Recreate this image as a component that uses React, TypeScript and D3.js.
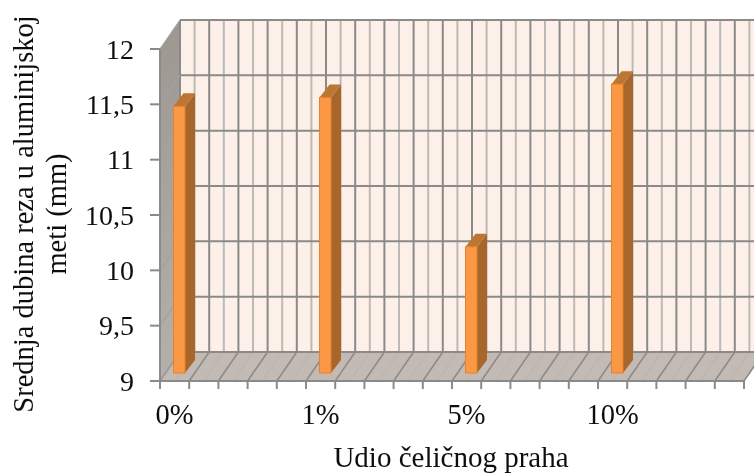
import React from "react";
import * as d3 from "d3";

const categories = ["0%", "", "", "", "", "1%", "", "", "", "", "5%", "", "", "", "", "10%", "", "", "", ""];
const seriesValues: (number | null)[] = [11.41, null, null, null, null, 11.49, null, null, null, null, 10.14, null, null, null, null, 11.61, null, null, null, null];
const yTicks = [9, 9.5, 10, 10.5, 11, 11.5, 12];
const yTitleLines = ["Srednja dubina reza u aluminijskoj", "meti (mm)"];
const xTitle = "Udio čeličnog praha";

const W = 754, H = 473;
const dx = 20, dy = -29;
const x0 = 160, x1 = 744;
const yBottom = 381, yTop = 49;
const font = "'Liberation Serif', 'Times New Roman', serif";

export default function App() {
  const keys = categories.map((_, i) => String(i));
  const x = d3.scaleBand<string>().domain(keys).range([x0, x1]);
  const y = d3.scaleLinear().domain([9, 12]).range([yBottom, yTop]);
  const bw = x.bandwidth();
  const fmt = (v: number) => String(v).replace(".", ",");
  const edges = d3.range(0, categories.length + 1).map((i) => x0 + i * bw);
  const mids = edges.slice(0, -1).map((e) => e + bw / 2);
  const poly = (p: [number, number][]) => "M" + p.map((q) => q.join(",")).join("L") + "Z";

  return (
    <svg width={W} height={H} viewBox={`0 0 ${W} ${H}`} style={{ position: "absolute", left: 0, top: 0, background: "#fff" }}>
      <defs>
        <filter id="soft" x="-5%" y="-5%" width="110%" height="110%">
          <feGaussianBlur stdDeviation="0.55" />
        </filter>
        <linearGradient id="sideWall" x1="0" y1="0" x2="0" y2="1">
          <stop offset="0" stopColor="#9d9792" />
          <stop offset="1" stopColor="#b5b0ab" />
        </linearGradient>
      </defs>
      <g filter="url(#soft)">
        <path d={poly([[x0 + dx, yTop + dy], [x1 + dx, yTop + dy], [x1 + dx, yBottom + dy], [x0 + dx, yBottom + dy]])} fill="#fdf0e8" />
        <path d={poly([[x0, yTop], [x0 + dx, yTop + dy], [x0 + dx, yBottom + dy], [x0, yBottom]])} fill="url(#sideWall)" />
        <path d={poly([[x0, yBottom], [x0 + dx, yBottom + dy], [x1 + dx, yBottom + dy], [x1, yBottom]])} fill="#c3bab4" />

        {mids.map((m, i) => (
          <g key={"m" + i} stroke="#bcb9b6" strokeWidth={2}>
            <line x1={m + dx} x2={m + dx} y1={yTop + dy} y2={yBottom + dy} />
            <line x1={m} x2={m + dx} y1={yBottom} y2={yBottom + dy} stroke="#bab2ac" strokeWidth={1} />
          </g>
        ))}
        {edges.map((e, i) => (
          <g key={"e" + i} stroke="#8a8a8a">
            <line x1={e + dx} x2={e + dx} y1={yTop + dy} y2={yBottom + dy} strokeWidth={2} />
            <line x1={e} x2={e + dx} y1={yBottom} y2={yBottom + dy} strokeWidth={1.5} />
            <line x1={e} x2={e} y1={yBottom} y2={yBottom + 8} strokeWidth={2} />
          </g>
        ))}
        {yTicks.map((t) => (
          <g key={t} stroke="#8a8a8a">
            <line x1={x0 + dx} x2={x1 + dx} y1={y(t) + dy} y2={y(t) + dy} strokeWidth={2} />
            <line x1={x0} x2={x0 + dx} y1={y(t)} y2={y(t) + dy} stroke="#a5a19d" strokeWidth={1.2} />
            <line x1={x0 - 10} x2={x0} y1={y(t)} y2={y(t)} strokeWidth={2} />
          </g>
        ))}
        <line x1={x0} x2={x0} y1={yTop} y2={yBottom} stroke="#8a8a8a" strokeWidth={2} />
        <line x1={x0} x2={x1} y1={yBottom} y2={yBottom} stroke="#8a8a8a" strokeWidth={2} />

        {seriesValues.map((v, i) => {
          if (v == null) return null;
          const bxL = (x(keys[i]) as number) + 13.5;
          const bxR = bxL + 11.5;
          const ox = 10, oy = -13;
          const sh = -8;
          const top = y(v) + sh, bot = y(9) + sh;
          return (
            <g key={i}>
              <path d={poly([[bxR, top], [bxR + ox, top + oy], [bxR + ox, bot + oy], [bxR, bot]])} fill="#a8662a" />
              <path d={poly([[bxL, top], [bxL + ox, top + oy], [bxR + ox, top + oy], [bxR, top]])} fill="#bd7430" />
              <rect x={bxL} y={top} width={bxR - bxL} height={bot - top} fill="#fb9844" stroke="#e5822e" strokeWidth={1} />
            </g>
          );
        })}

        {yTicks.map((t) => (
          <text key={t} x={134} y={y(t) + 9.5} textAnchor="end" fontFamily={font} fontSize={28} fill="#111">{fmt(t)}</text>
        ))}
        {categories.map((c, i) => c && (
          <text key={i} x={x(keys[i])! + bw / 2} y={423.5} textAnchor="middle" fontFamily={font} fontSize={28.5} fill="#111">{c}</text>
        ))}
        <text x={451} y={467} textAnchor="middle" fontFamily={font} fontSize={29} fill="#111">{xTitle}</text>
        {yTitleLines.map((l, i) => (
          <text key={i} transform={`translate(${33 + i * 33},214) rotate(-90)`} textAnchor="middle" fontFamily={font} fontSize={28.5} fill="#111">{l}</text>
        ))}
      </g>
    </svg>
  );
}
